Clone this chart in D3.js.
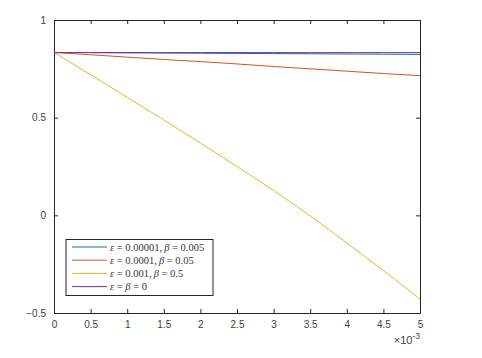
<!DOCTYPE html>
<html>
<head>
<meta charset="utf-8">
<script src="https://cdn.jsdelivr.net/npm/d3@7"></script>
<style>
  html, body { margin: 0; padding: 0; background: #fff; }
  .tick text { font-family: "Liberation Sans", Arial, sans-serif; font-size: 10px; fill: #404040; }
  .legend-text { font-family: "Liberation Serif", "DejaVu Serif", serif; font-size: 10.5px; fill: #333; }
  .legend-text .sym { font-style: italic; }
</style>
</head>
<body>
<div id="chart"></div>
<script>
// x values are in units of 1e-3
var xs = [0, 0.5, 1, 1.5, 2, 2.5, 3, 3.5, 4, 4.5, 5];
var seriesBlue = [0.834, 0.833, 0.832, 0.831, 0.830, 0.829, 0.828, 0.827, 0.826, 0.825, 0.824];
var seriesRed = [0.834, 0.822, 0.810, 0.798, 0.787, 0.775, 0.762, 0.750, 0.738, 0.726, 0.715];
var seriesYellow = [0.834, 0.72, 0.604, 0.488, 0.37, 0.25, 0.127, -0.003, -0.141, -0.283, -0.428];
var seriesPurple = [0.833, 0.833, 0.833, 0.833, 0.833, 0.833, 0.833, 0.833, 0.833, 0.833, 0.833];
var xTicks = [0, 0.5, 1, 1.5, 2, 2.5, 3, 3.5, 4, 4.5, 5];
var yTicks = [-0.5, 0, 0.5, 1];
// legend labels, split into [text, isSymbol] pieces
var labels = [
  [['\u03b5', true], [' = 0.00001,\u2009', false], ['\u03b2', true], [' = 0.005', false]],
  [['\u03b5', true], [' = 0.0001,\u2009', false], ['\u03b2', true], [' = 0.05', false]],
  [['\u03b5', true], [' = 0.001,\u2009', false], ['\u03b2', true], [' = 0.5', false]],
  [['\u03b5', true], [' = ', false], ['\u03b2', true], [' = 0', false]]
];
var colors = ['#0072BD', '#D95319', '#EDB120', '#7E2F8E'];

var W = 482, H = 358;
var margin = { top: 20, right: 62, bottom: 45, left: 54 };
var width = W - margin.left - margin.right;
var height = H - margin.top - margin.bottom;

var svg = d3.select('#chart').append('svg').attr('width', W).attr('height', H);
var g = svg.append('g').attr('transform', 'translate(' + margin.left + ',' + margin.top + ')');

var x = d3.scaleLinear().domain([0, 5]).range([0, width]);
var y = d3.scaleLinear().domain([-0.5, 1]).range([height, 0]);
var TICK = 4;
var axisColor = '#262626';

// bottom axis
var xAxis = g.append('g').attr('transform', 'translate(0,' + height + ')')
  .call(d3.axisBottom(x).tickValues(xTicks).tickSizeInner(-TICK).tickSizeOuter(0).tickPadding(8)
    .tickFormat(function (d) { return d3.format('')(d); }));
// top axis
var xTop = g.append('g').call(d3.axisTop(x).tickValues(xTicks).tickSizeInner(-TICK).tickSizeOuter(0).tickFormat(''));
// left axis
var yAxis = g.append('g').call(d3.axisLeft(y).tickValues(yTicks).tickSizeInner(-TICK).tickSizeOuter(0).tickPadding(8)
  .tickFormat(function (d) { return d3.format('')(d); }));
// right axis
var yRight = g.append('g').attr('transform', 'translate(' + width + ',0)')
  .call(d3.axisRight(y).tickValues(yTicks).tickSizeInner(-TICK).tickSizeOuter(0).tickFormat(''));

[xAxis, xTop, yAxis, yRight].forEach(function (a) {
  a.select('.domain').attr('stroke', axisColor).attr('stroke-width', 1);
  a.selectAll('.tick line').attr('stroke', axisColor).attr('stroke-width', 1);
});

// exponent label
var expText = svg.append('text')
  .attr('x', margin.left + width).attr('y', margin.top + height + 31)
  .attr('text-anchor', 'end')
  .attr('font-family', '"Liberation Sans", Arial, sans-serif')
  .attr('font-size', 11).attr('fill', '#404040');
expText.append('tspan').text('\u00d710');
expText.append('tspan').attr('dy', -5).attr('font-size', 8.5).text('-3');

// lines
var allSeries = [seriesBlue, seriesRed, seriesYellow, seriesPurple];
var line = d3.line().curve(d3.curveMonotoneX)
  .x(function (d, i) { return x(xs[i]); }).y(function (d) { return y(d); });
allSeries.forEach(function (s, i) {
  g.append('path').datum(s)
    .attr('fill', 'none')
    .attr('stroke', colors[i])
    .attr('stroke-width', 1)
    .attr('d', line);
});

// legend
var lg = svg.append('g').attr('transform', 'translate(66,239.5)');
lg.append('rect').attr('width', 147).attr('height', 56)
  .attr('fill', '#fff').attr('stroke', axisColor).attr('stroke-width', 1);
labels.forEach(function (parts, i) {
  var yy = 7.5 + i * 13.2;
  lg.append('line').attr('x1', 6).attr('x2', 41).attr('y1', yy).attr('y2', yy)
    .attr('stroke', colors[i]).attr('stroke-width', 1);
  var t = lg.append('text').attr('class', 'legend-text').attr('x', 44).attr('y', yy + 3.5)
    .attr('xml:space', 'preserve');
  parts.forEach(function (p) {
    t.append('tspan').attr('class', p[1] ? 'sym' : null).text(p[0]);
  });
});
</script>
</body>
</html>
